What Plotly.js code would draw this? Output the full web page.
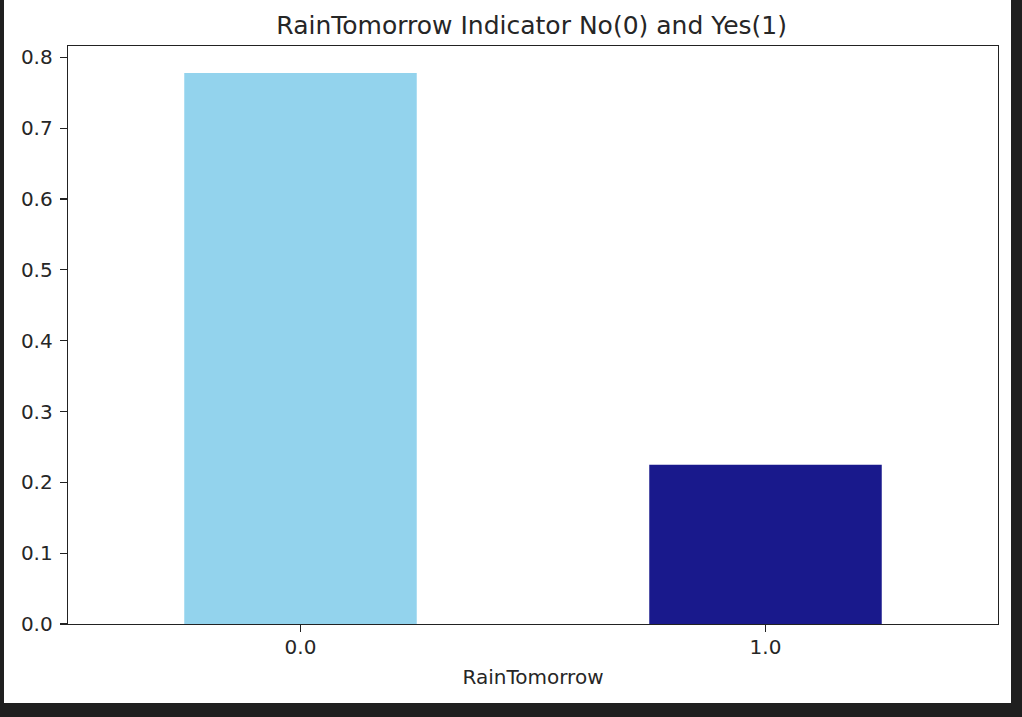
<!DOCTYPE html>
<html>
<head>
<meta charset="utf-8">
<script src="https://cdn.plot.ly/plotly-3.0.1.min.js"></script>
<style>
html,body{margin:0;padding:0;background:#1f1f1f;width:1022px;height:717px;overflow:hidden;}
#chart{position:absolute;left:4px;top:0;width:1007px;height:703px;background:#fff;}
</style>
</head>
<body>
<div id="chart"></div>
<script>
const categories = ["0.0", "1.0"];
const proportions = [0.778, 0.225];
const barColors = ["rgba(135,206,235,0.9)", "rgba(0,0,128,0.9)"];
const yTicks = [0, 0.1, 0.2, 0.3, 0.4, 0.5, 0.6, 0.7, 0.8];

const font = "DejaVu Sans, sans-serif";
Plotly.newPlot("chart", [{
  type: "bar",
  x: categories,
  y: proportions,
  width: 0.5,
  marker: {color: barColors, line: {width: 0}},
  hoverinfo: "x+y"
}], {
  width: 1007, height: 703,
  margin: {l: 64, r: 13, t: 46, b: 79},
  paper_bgcolor: "#fff", plot_bgcolor: "#fff",
  title: {text: "RainTomorrow Indicator No(0) and Yes(1)", font: {family: font, size: 25, color: "#262626"}, x: 0.524, xanchor: "center", y: 0.964, yanchor: "middle"},
  xaxis: {
    type: "category", range: [-0.5, 1.5],
    showline: true, mirror: true, linecolor: "#222", linewidth: 1.3,
    ticks: "outside", ticklen: 7, tickwidth: 1.3, tickcolor: "#222",
    ticklabelstandoff: -2,
    showgrid: false, zeroline: false,
    tickfont: {family: font, size: 20, color: "#262626"},
    title: {text: "RainTomorrow", font: {family: font, size: 20, color: "#262626"}, standoff: 11}
  },
  yaxis: {
    range: [0, 0.816],
    tickvals: yTicks, ticktext: yTicks.map(v => v.toFixed(1)),
    showline: true, mirror: true, linecolor: "#222", linewidth: 1.3,
    ticks: "outside", ticklen: 7, tickwidth: 1.3, tickcolor: "#222",
    ticklabelstandoff: 3,
    showgrid: false, zeroline: false,
    tickfont: {family: font, size: 20, color: "#262626"}
  },
  showlegend: false,
  bargap: 0.5
}, {displayModeBar: false, staticPlot: true});
</script>
</body>
</html>
